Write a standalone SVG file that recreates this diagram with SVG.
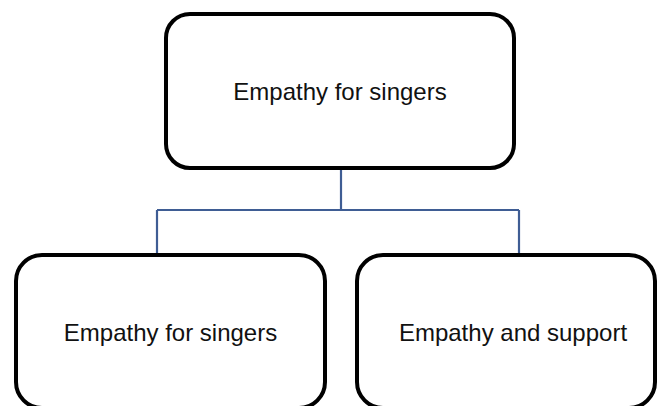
<svg xmlns="http://www.w3.org/2000/svg" width="658" height="406" viewBox="0 0 658 406">
  <style>
    .box { fill: #ffffff; stroke: #000000; stroke-width: 4; }
    .label { font-family: "Liberation Sans", Arial, sans-serif; font-size: 24px; fill: #111111; text-anchor: middle; }
    .link { fill: none; stroke: #3f5d94; stroke-width: 2.2; }
  </style>
  <rect width="658" height="406" fill="#ffffff"/>

  <!-- tree connectors -->
  <g id="connectors">
    <path class="link" d="M341 168 V210"/>
    <path class="link" d="M157 210 H519"/>
    <path class="link" d="M157 210 V255"/>
    <path class="link" d="M519 210 V255"/>
  </g>

  <g id="root">
    <rect class="box" x="166" y="14" width="348" height="154" rx="24" ry="24"/>
    <text class="label" x="340" y="100">Empathy for singers</text>
  </g>

  <!-- child boxes run off the bottom edge -->
  <g id="child-left">
    <rect class="box" x="16" y="255" width="309" height="153" rx="26" ry="26"/>
    <text class="label" x="170.5" y="341">Empathy for singers</text>
  </g>

  <g id="child-right">
    <rect class="box" x="357" y="255" width="298" height="153" rx="26" ry="26"/>
    <text class="label" x="513" y="341">Empathy and support</text>
  </g>
</svg>
